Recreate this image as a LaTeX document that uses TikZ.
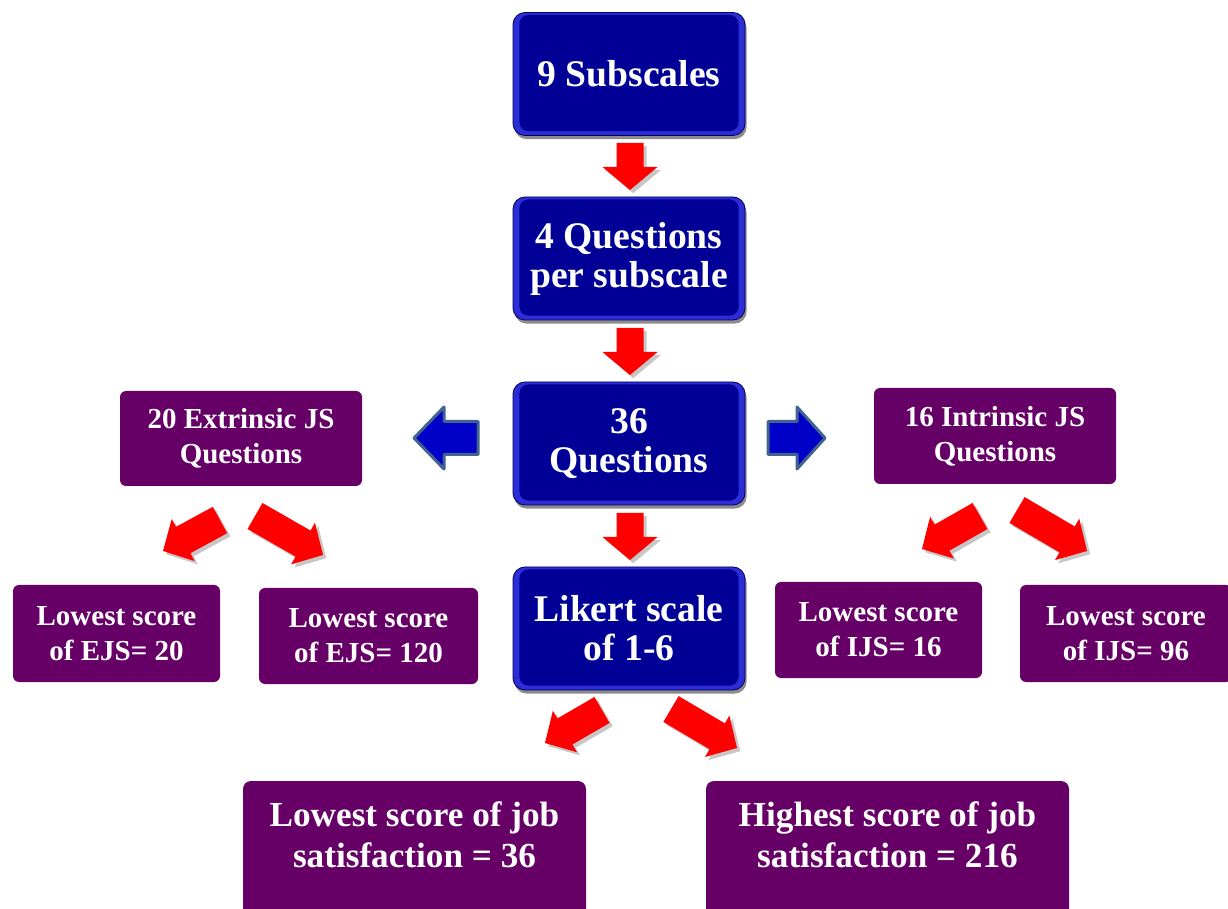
\documentclass[tikz,border=0pt]{standalone}
\usepackage{fontspec}
\setmainfont{Liberation Serif}
\usetikzlibrary{calc,shadows}

\definecolor{navy}{RGB}{0,0,150}
\definecolor{rim}{RGB}{45,45,215}
\definecolor{plum}{RGB}{102,0,102}
\definecolor{arrowred}{RGB}{255,0,0}
\definecolor{arrowblue}{RGB}{0,0,200}
\definecolor{arrowedge}{RGB}{65,99,143}

% block arrow from #2 (tail) to #3 (tip):
% #4 half shaft width, #5 half head width, #6 head length
\newcommand\blockarrow[6]{%
  \coordinate (hb) at ($(#3)!#6!(#2)$);
  \path[#1] ($(#2)!#4!-90:(#3)$) -- ($(hb)!#4!-90:(#3)$) -- ($(hb)!#5!-90:(#3)$)
    -- (#3) -- ($(hb)!#5!90:(#3)$) -- ($(hb)!#4!90:(#3)$) -- ($(#2)!#4!90:(#3)$) -- cycle;
}
\newcommand\redarrow[5]{%
  \blockarrow{fill=black,opacity=0.22,transform canvas={shift={(1.6pt,-1.6pt)}}}{#1}{#2}{#3}{#4}{#5}
  \blockarrow{fill=arrowred}{#1}{#2}{#3}{#4}{#5}
}

\tikzset{
  bluebox/.style={rounded corners=6pt, fill=rim, draw=navy!60!black, line width=0.4pt,
    minimum width=116pt, minimum height=61.5pt, text=white, align=center,
    font=\bfseries\fontsize{18.8pt}{19.5pt}\selectfont,
    drop shadow={shadow xshift=0.8pt, shadow yshift=-1.8pt, opacity=0.45, fill=black},
    path picture={\fill[navy, rounded corners=4.5pt]
      ([shift={(3.2pt,-1.2pt)}]path picture bounding box.north west) rectangle
      ([shift={(-3.2pt,2.2pt)}]path picture bounding box.south east);}},
  plumbox/.style={rounded corners=3pt, fill=plum, text=white, align=center,
    font=\bfseries\fontsize{14.5pt}{17.5pt}\selectfont},
  bigplum/.style={rounded corners=4pt, fill=plum, minimum height=72pt},
  bigtext/.style={text=white, align=center,
    font=\bfseries\fontsize{17.6pt}{20.5pt}\selectfont},
  bluearrow/.style={fill=arrowblue, draw=arrowedge, line width=1.5pt, line join=round}
}

\begin{document}
\begin{tikzpicture}[x=0.5pt,y=-0.5pt]
\clip (0,0) rectangle (1228,909);
\fill[white] (0,0) rectangle (1228,909);

% central column
\node[bluebox] (b1) at (629,74) {9 Subscales};
\node[bluebox] (b2) at (629,258.5) {4 Questions\\per subscale};
\node[bluebox] (b3) at (629,443.5) {36\\Questions};
\node[bluebox] (b4) at (629,628.5) {Likert scale\\of 1-6};

% extrinsic / intrinsic split
\node[plumbox, minimum width=121pt, minimum height=47.5pt] (ext) at (241,438.5) {20 Extrinsic JS\\Questions};
\node[plumbox, minimum width=121pt, minimum height=48pt] (int) at (995,436) {16 Intrinsic JS\\Questions};

\node[plumbox, minimum width=103.5pt, minimum height=48.5pt] (e1) at (116.5,633.5) {Lowest score\\of EJS= 20};
\node[plumbox, minimum width=109.5pt, minimum height=48pt] (e2) at (368.5,636) {Lowest score\\of EJS= 120};
\node[plumbox, minimum width=103.5pt, minimum height=48pt] (i1) at (878.5,630) {Lowest score\\of IJS= 16};
\node[plumbox, minimum width=106pt, minimum height=48.5pt] (i2) at (1126,633.5) {Lowest score\\of IJS= 96};

% overall score range
\node[bigplum, minimum width=171.5pt] (lowbox) at (414.5,853) {};
\node[bigtext] (low) at (414.5,835) {Lowest score of job\\satisfaction = 36};
\node[bigplum, minimum width=181.5pt] (highbox) at (887.5,853) {};
\node[bigtext] (high) at (887.5,835) {Highest score of job\\satisfaction = 216};

% arrow end points
\coordinate (d1t) at (630,143); \coordinate (d1h) at (630,190);
\coordinate (d2t) at (630,328); \coordinate (d2h) at (630,375);
\coordinate (d3t) at (630,513); \coordinate (d3h) at (630,560);

\coordinate (elt) at (220,520); \coordinate (elh) at (163,551);
\coordinate (ert) at (255,516); \coordinate (erh) at (323,555);
\coordinate (ilt) at (980,516); \coordinate (ilh) at (922,549);
\coordinate (irt) at (1017,510); \coordinate (irh) at (1087,551);
\coordinate (llt) at (602,710); \coordinate (llh) at (545,743);
\coordinate (lrt) at (671,709); \coordinate (lrh) at (737,748);

\coordinate (bl1) at (478,438); \coordinate (bl2) at (414,438);
\coordinate (br1) at (768,438); \coordinate (br2) at (825,438);

% downward arrows
\redarrow{d1t}{d1h}{6.75pt}{13.75pt}{11.5pt}
\redarrow{d2t}{d2h}{6.75pt}{13.75pt}{11.5pt}
\redarrow{d3t}{d3h}{6.75pt}{13.75pt}{11.5pt}

% diagonal arrows
\redarrow{elt}{elh}{7.5pt}{12pt}{11.5pt}
\redarrow{ert}{erh}{7.5pt}{12pt}{11.5pt}
\redarrow{ilt}{ilh}{7.5pt}{12pt}{11.5pt}
\redarrow{irt}{irh}{7.5pt}{12pt}{11.5pt}
\redarrow{llt}{llh}{7.5pt}{12pt}{11.5pt}
\redarrow{lrt}{lrh}{7.5pt}{12pt}{11.5pt}

% side arrows
\blockarrow{bluearrow}{bl1}{bl2}{8.25pt}{15.5pt}{15pt}
\blockarrow{bluearrow}{br1}{br2}{8.25pt}{15.5pt}{14pt}
\end{tikzpicture}
\end{document}
